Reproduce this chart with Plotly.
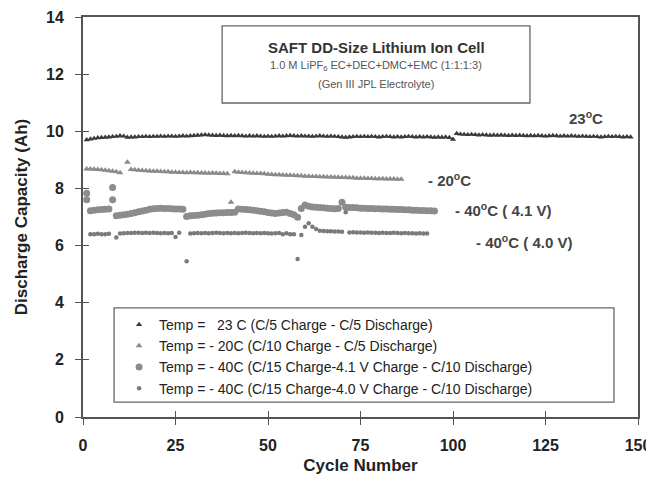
import plotly.graph_objects as go

# ---- data ----
cyc_23 = list(range(1, 149))
cap_23 = [
    9.70, 9.73, 9.75, 9.77, 9.78, 9.79, 9.80, 9.81, 9.82, 9.84,
    9.83, 9.79, 9.80, 9.80, 9.81, 9.81, 9.82, 9.81, 9.82, 9.82,
    9.83, 9.82, 9.83, 9.83, 9.82, 9.83, 9.84, 9.83, 9.84, 9.85,
    9.86, 9.87, 9.88, 9.87, 9.86, 9.85, 9.86, 9.85, 9.84, 9.85,
    9.84, 9.85, 9.84, 9.83, 9.84, 9.83, 9.84, 9.83, 9.82, 9.83,
    9.82, 9.83, 9.84, 9.83, 9.84, 9.85, 9.84, 9.83, 9.84, 9.83,
    9.83, 9.82, 9.83, 9.84, 9.83, 9.82, 9.83, 9.82, 9.81, 9.80,
    9.79, 9.80, 9.81, 9.82, 9.81, 9.82, 9.81, 9.82, 9.81, 9.80,
    9.81, 9.82, 9.81, 9.80, 9.81, 9.80, 9.81, 9.82, 9.81, 9.80,
    9.81, 9.80, 9.81, 9.80, 9.79, 9.80, 9.79, 9.80, 9.78, 9.72,
    9.92, 9.90, 9.89, 9.88, 9.89, 9.88, 9.87, 9.88, 9.87, 9.86,
    9.87, 9.86, 9.87, 9.86, 9.85, 9.86, 9.85, 9.86, 9.85, 9.84,
    9.85, 9.84, 9.85, 9.84, 9.83, 9.84, 9.85, 9.84, 9.83, 9.84,
    9.83, 9.84, 9.83, 9.82, 9.83, 9.82, 9.81, 9.82, 9.81, 9.80,
    9.81, 9.82, 9.81, 9.82, 9.81, 9.80, 9.81, 9.80,
]

cyc_m20 = list(range(1, 11)) + list(range(12, 87))
cap_m20 = [
    8.68, 8.68, 8.67, 8.66, 8.65, 8.64, 8.62, 8.60, 8.58, 8.55,
    8.92,
    8.66, 8.65, 8.64, 8.63, 8.62, 8.61, 8.60, 8.60,
    8.59, 8.58, 8.58, 8.57, 8.57, 8.56, 8.56, 8.55, 8.56, 8.55,
    8.55, 8.54, 8.54, 8.53, 8.54, 8.53, 8.52, 8.52, 8.51, 7.52,
    8.58, 8.57, 8.56, 8.55, 8.54, 8.53, 8.52, 8.52, 8.51, 8.50,
    8.49, 8.48, 8.48, 8.47, 8.46, 8.46, 8.45, 8.44, 8.44, 8.43,
    8.43, 8.42, 8.42, 8.41, 8.41, 8.40, 8.40, 8.39, 8.39, 8.38,
    8.38, 8.37, 8.37, 8.36, 8.36, 8.36, 8.35, 8.35, 8.34, 8.34,
    8.34, 8.33, 8.33, 8.33, 8.32, 8.32,
]

cyc_m40a = [1, 1] + list(range(2, 8)) + [8, 8] + list(range(9, 96))
cap_m40a = [
    7.83, 7.60,
    7.22, 7.24, 7.25, 7.26, 7.27, 7.28,
    8.03, 7.60,
    7.04, 7.06, 7.08, 7.10, 7.12, 7.15, 7.18, 7.21, 7.24, 7.27,
    7.29, 7.30, 7.31, 7.30, 7.30, 7.29, 7.28, 7.28, 7.27, 7.02,
    7.04, 7.05, 7.06, 7.08, 7.10, 7.12, 7.13, 7.14, 7.15, 7.15,
    7.16, 7.16, 7.17, 7.28, 7.27, 7.26, 7.25, 7.24, 7.22, 7.20,
    7.18, 7.16, 7.14, 7.12, 7.14, 7.16, 7.17, 7.12, 7.08, 6.99,
    7.30, 7.42, 7.38, 7.35, 7.34, 7.33, 7.32, 7.31, 7.30, 7.29,
    7.30, 7.52, 7.34, 7.33, 7.33, 7.32, 7.31, 7.31, 7.30, 7.30,
    7.29, 7.29, 7.28, 7.28, 7.27, 7.27, 7.26, 7.26, 7.25, 7.25,
    7.24, 7.24, 7.23, 7.23, 7.22, 7.22, 7.21,
]

cyc_m40b = list(range(2, 8)) + list(range(9, 27)) + list(range(28, 100))
cap_m40b = [
    6.40, 6.40, 6.41, 6.40, 6.40, 6.41,
    6.28, 6.42, 6.43, 6.44, 6.44, 6.45, 6.45, 6.44, 6.45, 6.44,
    6.45, 6.44, 6.43, 6.44, 6.43, 6.44, 6.30, 6.45,
    5.45, 6.42, 6.43, 6.44, 6.43, 6.44, 6.43, 6.44, 6.45, 6.44,
    6.43, 6.44, 6.43, 6.44, 6.43, 6.44, 6.45, 6.44, 6.43, 6.44,
    6.43, 6.44, 6.43, 6.42, 6.43, 6.44, 6.40, 6.43, 6.40, 6.40,
    5.53, 6.37, 6.66, 6.78, 6.66, 6.58, 6.52, 6.51, 6.50, 6.50,
    6.49, 6.49, 6.48, 7.17, 6.46, 6.47, 6.46, 6.46, 6.45, 6.46,
    6.45, 6.45, 6.44, 6.45, 6.44, 6.44, 6.45, 6.44, 6.43, 6.44,
    6.43, 6.43, 6.42, 6.43, 6.42, 6.42,
]

legend_names = [
    "Temp =   23 C (C/5 Charge - C/5 Discharge)",
    "Temp = - 20C (C/10 Charge - C/5 Discharge)",
    "Temp = - 40C (C/15 Charge-4.1 V Charge - C/10 Discharge)",
    "Temp = - 40C (C/15 Charge-4.0 V Charge - C/10 Discharge)",
]

FONT = "Liberation Sans, Arial, sans-serif"
AX = "#555555"

fig = go.Figure()

series = [
    (cyc_23, cap_23, "triangle-up", 5.5, "#3a3a3a"),
    (cyc_m20, cap_m20, "triangle-up", 6, "#8a8a8a"),
    (cyc_m40a, cap_m40a, "circle", 7, "#8c8c8c"),
    (cyc_m40b, cap_m40b, "circle", 4.5, "#7a7a7a"),
]
for i, (xs, ys, sym, size, col) in enumerate(series):
    fig.add_trace(go.Scatter(
        x=xs, y=ys, mode="markers", name=legend_names[i],
        legendgroup=f"g{i}",
        marker=dict(symbol=sym, size=size, color=col, line=dict(width=0)),
    ))

# invisible trace so the overlay axes (inside half of the crossing ticks) get drawn
fig.add_trace(go.Scatter(x=[None], y=[None], xaxis="x2", yaxis="y2",
                         showlegend=False, hoverinfo="skip"))

tick_font = dict(family=FONT, size=16, color="#222222")

# page body adds an 8px margin, so the figure is 8px smaller and margins are trimmed by 8
fig.update_layout(
    width=646, height=475,
    margin=dict(l=75, r=16, t=9, b=66),
    plot_bgcolor="white", paper_bgcolor="white",
    font=dict(family=FONT, color="#222222"),
    xaxis=dict(
        range=[0, 150], tickvals=[0, 25, 50, 75, 100, 125, 150],
        ticktext=["<b>0</b>", "<b>25</b>", "<b>50</b>", "<b>75</b>", "<b>100</b>", "<b>125</b>", "<b>150</b>"],
        tickfont=tick_font, ticks="outside", ticklen=6, tickwidth=1.3, tickcolor=AX,
        ticklabelstandoff=7,
        showline=True, linecolor=AX, linewidth=2, mirror=True, showgrid=False, zeroline=False,
        automargin=False,
        title=dict(text="<b>Cycle Number</b>", font=dict(family=FONT, size=17, color="#222222"), standoff=6),
    ),
    yaxis=dict(
        range=[0, 14], tickvals=[0, 2, 4, 6, 8, 10, 12, 14],
        ticktext=["<b>0</b>", "<b>2</b>", "<b>4</b>", "<b>6</b>", "<b>8</b>", "<b>10</b>", "<b>12</b>", "<b>14</b>"],
        tickfont=tick_font, ticks="outside", ticklen=6, tickwidth=1.3, tickcolor=AX,
        ticklabelstandoff=8,
        showline=True, linecolor=AX, linewidth=2, mirror=True, showgrid=False, zeroline=False,
        automargin=False,
        title=dict(text="<b>Discharge Capacity (Ah)</b>", font=dict(family=FONT, size=17, color="#222222"), standoff=14),
    ),
    xaxis2=dict(
        range=[0, 150], overlaying="x", side="bottom", tickvals=[0, 25, 50, 75, 100, 125, 150],
        showticklabels=False, ticks="inside", ticklen=6, tickwidth=1.3, tickcolor=AX,
        showline=False, showgrid=False, zeroline=False, automargin=False,
    ),
    yaxis2=dict(
        range=[0, 14], overlaying="y", side="left", tickvals=[0, 2, 4, 6, 8, 10, 12, 14],
        showticklabels=False, ticks="inside", ticklen=6, tickwidth=1.3, tickcolor=AX,
        showline=False, showgrid=False, zeroline=False, automargin=False,
    ),
    showlegend=True,
    legend=dict(
        x=0.065, y=0.27, xanchor="left", yanchor="top",
        bgcolor="rgba(0,0,0,0)", borderwidth=0,
        font=dict(family=FONT, size=14, color="#222222"),
        traceorder="grouped", tracegroupgap=0, itemwidth=30,
    ),
)

# legend frame and title frame
fig.add_shape(type="rect", x0=8.4, x1=143.5, y0=0.52, y1=3.82,
              line=dict(color="#666666", width=1.3), fillcolor="rgba(0,0,0,0)")
fig.add_shape(type="rect", x0=37.6, x1=120.8, y0=10.99, y1=13.69,
              line=dict(color="#666666", width=1.3), fillcolor="white", layer="below")

ann = [
    (79.2, 12.95, "<b>SAFT DD-Size Lithium Ion Cell</b>", 15, "#333333", "center"),
    (79.2, 12.29, "1.0 M LiPF<sub>6</sub> EC+DEC+DMC+EMC (1:1:1:3)", 11, "#555555", "center"),
    (79.2, 11.66, "(Gen III JPL Electrolyte)", 11, "#555555", "center"),
    (136.0, 10.47, "<b>23<sup>o</sup>C</b>", 15, "#444444", "center"),
    (92.7, 8.30, "<b>- 20<sup>o</sup>C</b>", 15, "#444444", "left"),
    (100.0, 7.25, "<b>- 40<sup>o</sup>C ( 4.1 V)</b>", 15, "#444444", "left"),
    (105.8, 6.16, "<b>- 40<sup>o</sup>C ( 4.0 V)</b>", 15, "#444444", "left"),
]
for x, y, t, s, c, al in ann:
    fig.add_annotation(x=x, y=y, text=t, showarrow=False, xanchor=al, yanchor="middle",
                       font=dict(family=FONT, size=s, color=c))

fig.write_html("out.html")
